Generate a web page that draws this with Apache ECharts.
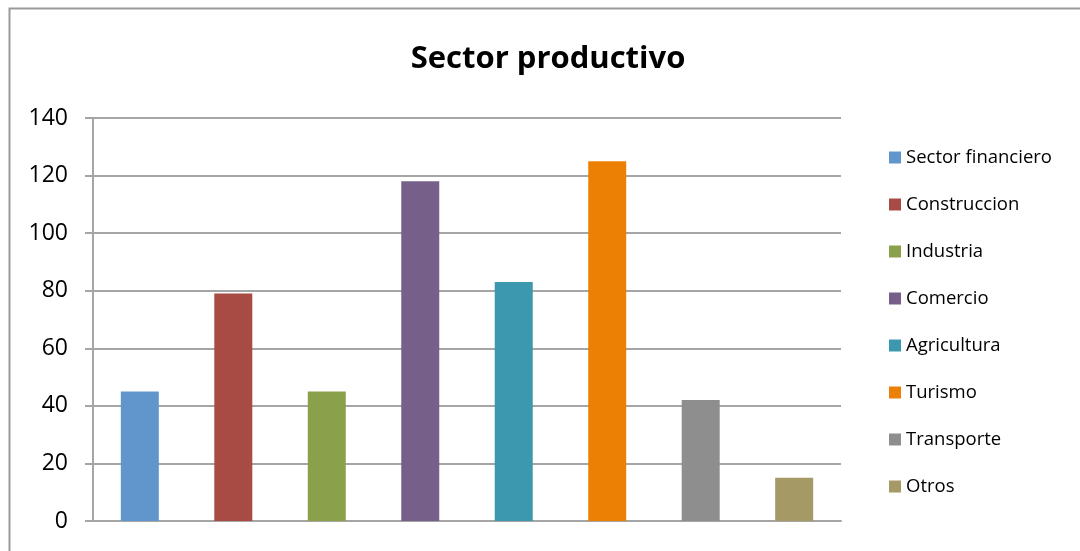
<!DOCTYPE html>
<html lang="es">
<head>
    <meta charset="UTF-8">
    <title>Sector productivo</title>
    <script src="https://cdn.jsdelivr.net/npm/echarts@6/dist/echarts.min.js"></script>
    <style>
        html, body { margin: 0; padding: 0; background: #fff; }
    </style>
</head>
<body>
    <div id="chart" style="width: 1080px; height: 551px;"></div>
    <script>
        // datos
        const sectores = ['Sector financiero', 'Construccion', 'Industria', 'Comercio', 'Agricultura', 'Turismo', 'Transporte', 'Otros'];
        const valores = [45, 79, 45, 118, 83, 125, 42, 15];
        const colores = ['#6096CB', '#A74B44', '#8BA04B', '#76608A', '#3C98AE', '#EC8004', '#8E8E8E', '#A59966'];
        const yTicks = [0, 20, 40, 60, 80, 100, 120, 140];

        var myChart = echarts.init(document.getElementById('chart'));

        const series = sectores.map((nombre, i) => ({
            name: nombre,
            type: 'bar',
            data: [valores[i]],
            barWidth: 38,
            barGap: '146%',
            itemStyle: { color: colores[i] }
        }));

        const option = {
            animation: false,
            title: {
                text: 'Sector productivo',
                left: 543,
                textAlign: 'center',
                top: 39,
                textStyle: { fontFamily: 'Open Sans', fontSize: 31, fontWeight: 'bold', color: '#000' }
            },
            graphic: [{
                type: 'rect',
                shape: { x: 9.5, y: 8.5, width: 1100, height: 600 },
                style: { fill: 'none', stroke: '#9a9a9a', lineWidth: 2 },
                silent: true
            }],
            legend: {
                orient: 'vertical',
                left: 889,
                top: 148,
                padding: 0,
                itemWidth: 12,
                itemHeight: 12,
                itemGap: 28,
                icon: 'rect',
                textStyle: { fontFamily: 'Open Sans', fontSize: 18.5, lineHeight: 19, color: '#000' },
                data: sectores
            },
            grid: { left: 93, right: 239, top: 118, bottom: 30 },
            xAxis: {
                type: 'category',
                data: [''],
                axisLine: { show: true, lineStyle: { color: '#a5a5a5', width: 2 } },
                axisTick: { show: false },
                axisLabel: { show: false }
            },
            yAxis: {
                type: 'value',
                min: yTicks[0],
                max: yTicks[yTicks.length - 1],
                interval: 20,
                axisLine: { show: true, lineStyle: { color: '#a5a5a5', width: 2 } },
                axisTick: { show: true, length: 8, lineStyle: { color: '#a5a5a5', width: 2 } },
                axisLabel: { margin: 25, fontFamily: 'Open Sans', fontSize: 23, color: '#000' },
                splitLine: { lineStyle: { color: '#a5a5a5', width: 2 } }
            },
            series: series
        };

        myChart.setOption(option);
    </script>
</body>
</html>
